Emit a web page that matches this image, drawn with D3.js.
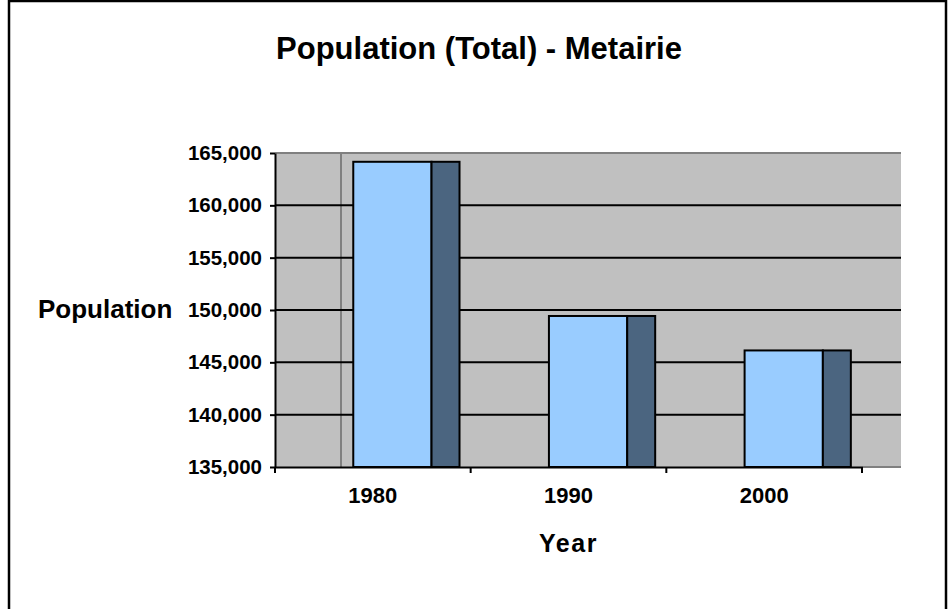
<!DOCTYPE html>
<html>
<head>
<meta charset="utf-8">
<script src="https://cdn.jsdelivr.net/npm/d3@7"></script>
<style>
  html, body { margin: 0; padding: 0; background: #fff; }
  svg { display: block; font-family: "Liberation Sans", Arial, sans-serif; font-weight: bold; }
</style>
</head>
<body>
<div id="chart"></div>
<script>
// data
var years = ['1980', '1990', '2000'];
var population = [164160, 149428, 146136];
var yTicks = [135000, 140000, 145000, 150000, 155000, 160000, 165000];

var width = 948, height = 609;
var plot = { left: 275, right: 862, wallRight: 901, top: 153, bottom: 467 };

var svg = d3.select('#chart').append('svg')
    .attr('width', width)
    .attr('height', height);

// outer chart border
svg.append('rect')
    .attr('x', 9).attr('y', 1)
    .attr('width', 937).attr('height', 700)
    .attr('fill', '#fff')
    .attr('stroke', '#000')
    .attr('stroke-width', 2.5);

var xScale = d3.scaleBand()
    .domain(years)
    .range([plot.left, plot.right])
    .padding(0);

var yScale = d3.scaleLinear()
    .domain([135000, 165000])
    .range([plot.bottom, plot.top]);

// plot wall
svg.append('rect')
    .attr('x', plot.left).attr('y', plot.top)
    .attr('width', plot.wallRight - plot.left)
    .attr('height', plot.bottom - plot.top)
    .attr('fill', '#c0c0c0');

// wall top edge + side wall line
svg.append('line')
    .attr('x1', plot.left).attr('x2', plot.wallRight)
    .attr('y1', plot.top).attr('y2', plot.top)
    .attr('stroke', '#808080').attr('stroke-width', 2);
svg.append('line')
    .attr('x1', 341).attr('x2', 341)
    .attr('y1', plot.top).attr('y2', plot.bottom)
    .attr('stroke', '#808080').attr('stroke-width', 2);
svg.append('line')
    .attr('x1', plot.right).attr('x2', plot.wallRight)
    .attr('y1', plot.bottom).attr('y2', plot.bottom)
    .attr('stroke', '#808080').attr('stroke-width', 2);

// gridlines
svg.append('g')
    .selectAll('line')
    .data(yTicks.slice(1, -1))
    .enter()
    .append('line')
    .attr('x1', plot.left).attr('x2', plot.wallRight)
    .attr('y1', function (d) { return yScale(d); })
    .attr('y2', function (d) { return yScale(d); })
    .attr('stroke', '#000').attr('stroke-width', 2);

// bars: front face + side face
var bw = xScale.bandwidth();
var bars = svg.append('g').selectAll('g')
    .data(population)
    .enter()
    .append('g');

bars.append('rect')
    .attr('x', function (d, i) { return xScale(years[i]) + 0.4 * bw; })
    .attr('y', function (d) { return yScale(d); })
    .attr('width', 0.4 * bw)
    .attr('height', function (d) { return plot.bottom - yScale(d); })
    .attr('fill', '#99ccff')
    .attr('stroke', '#000').attr('stroke-width', 2);

bars.append('rect')
    .attr('x', function (d, i) { return xScale(years[i]) + 0.8 * bw; })
    .attr('y', function (d) { return yScale(d); })
    .attr('width', 0.143 * bw)
    .attr('height', function (d) { return plot.bottom - yScale(d); })
    .attr('fill', '#4b6580')
    .attr('stroke', '#000').attr('stroke-width', 2);

// axes
var yAxis = d3.axisLeft(yScale)
    .tickValues(yTicks)
    .tickSize(5)
    .tickSizeOuter(0)
    .tickPadding(8)
    .tickFormat(d3.format(','));

var yAxisG = svg.append('g')
    .attr('transform', 'translate(' + plot.left + ',0)')
    .call(yAxis);

var xAxisG = svg.append('g')
    .attr('transform', 'translate(0,' + plot.bottom + ')')
    .call(d3.axisBottom(xScale).tickSize(0).tickSizeOuter(0).tickPadding(20));

// category separators (ticks between bands)
xAxisG.append('g')
    .selectAll('line')
    .data(years.map(function (y) { return xScale(y) + bw; }).concat([plot.left]))
    .enter()
    .append('line')
    .attr('x1', function (d) { return d; })
    .attr('x2', function (d) { return d; })
    .attr('y1', 0).attr('y2', 6)
    .attr('stroke', '#000').attr('stroke-width', 2);

[yAxisG, xAxisG].forEach(function (g) {
    g.select('.domain').attr('stroke', '#000').attr('stroke-width', 2);
    g.selectAll('.tick line').attr('stroke', '#000').attr('stroke-width', 2);
    g.selectAll('.tick text')
        .attr('fill', '#000')
        .style('font-family', '"Liberation Sans", Arial, sans-serif')
        .style('font-weight', 'bold');
});
yAxisG.selectAll('.tick text').style('font-size', '20.5px');
xAxisG.selectAll('.tick text').style('font-size', '22px');

// titles
svg.append('text')
    .attr('x', 479).attr('y', 59)
    .attr('text-anchor', 'middle')
    .style('font-size', '31px')
    .text('Population (Total) - Metairie');

svg.append('text')
    .attr('x', 38).attr('y', 318)
    .style('font-size', '26px')
    .text('Population');

svg.append('text')
    .attr('x', (plot.left + plot.right) / 2).attr('y', 552)
    .attr('text-anchor', 'middle')
    .style('font-size', '25px')
    .style('letter-spacing', '1.5px')
    .text('Year');
</script>
</body>
</html>
